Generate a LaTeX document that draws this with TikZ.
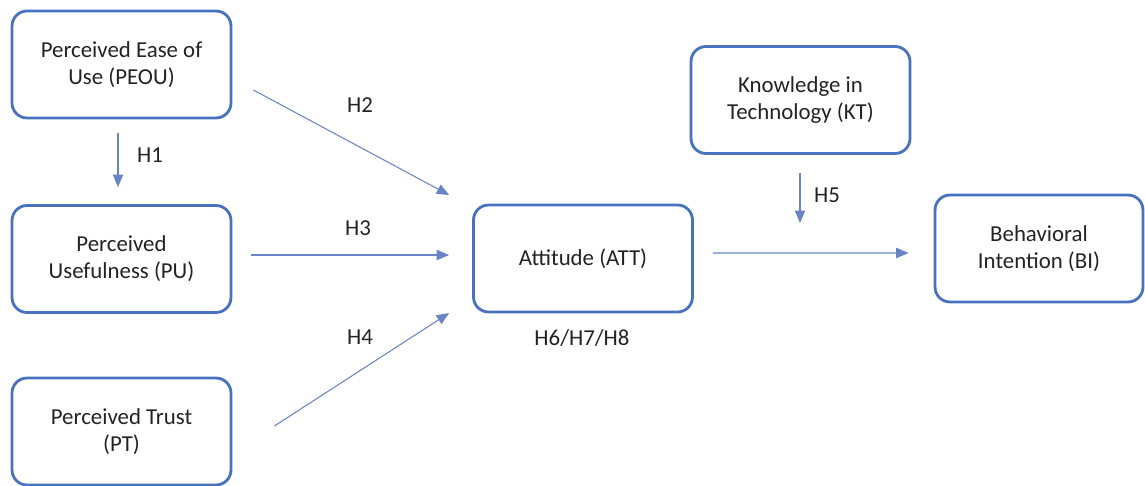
\documentclass[tikz,border=0pt]{standalone}
\usepackage{fontspec}
\setmainfont{Carlito}
\usetikzlibrary{arrows}
\definecolor{boxblue}{RGB}{72,114,190}
\definecolor{arrowblue}{RGB}{104,132,196}
\definecolor{textgray}{RGB}{35,35,35}

\tikzset{
  construct/.style={draw=boxblue, line width=1.6pt, rounded corners=0.3cm, fill=white,
    minimum width=4.38cm, minimum height=2.14cm, align=center, text=textgray,
    font=\fontsize{13}{15.4}\selectfont},
  path/.style={draw=arrowblue, line width=0.6pt, -triangle 45},
  hyp/.style={text=textgray, font=\fontsize{13}{15}\selectfont}
}

\begin{document}
\begin{tikzpicture}[x=0.02cm, y=-0.02cm]

\useasboundingbox (0, 0) rectangle (1145, 486);

\node[construct] (peou) at (121.5, 64.5) {Perceived Ease of\\Use (PEOU)};
\node[construct] (pu) at (121.5, 259) {Perceived\\Usefulness (PU)};
\node[construct] (pt) at (121.5, 431.5) {Perceived Trust\\(PT)};
\node[construct] (att) at (583, 258.5) {Attitude (ATT)};
\node[construct] (kt) at (800.5, 100) {Knowledge in\\Technology (KT)};
\node[construct, minimum width=4.16cm] (bi) at (1039, 248.5) {Behavioral\\Intention (BI)};

\coordinate (h5end) at (800, 223);

\draw[path] ([shift={(-3.5, 14)}]peou.south) -- ([shift={(-3.5, -17)}]pu.north);
\draw[path] ([shift={(21, 25.5)}]peou.east) -- ([shift={(-23, -63.5)}]att.west);
\draw[path] ([shift={(19, -4)}]pu.east) -- ([shift={(-23, -3.5)}]att.west);
\draw[path] ([shift={(42, -5.5)}]pt.east) -- ([shift={(-23, 54.5)}]att.west);
\draw[path] ([shift={(19, -5.5)}]att.east) -- ([shift={(-25, 4.5)}]bi.west);
\draw[path] ([shift={(-0.5, 18)}]kt.south) -- (h5end);

\node[hyp] (h1) at (150, 155) {H1};
\node[hyp] (h2) at (360, 105) {H2};
\node[hyp] (h3) at (358, 228) {H3};
\node[hyp] (h4) at (360, 337) {H4};
\node[hyp] (h5) at (827, 195) {H5};
\node[hyp] (h678) at (582, 338) {H6/H7/H8};

\end{tikzpicture}
\end{document}
